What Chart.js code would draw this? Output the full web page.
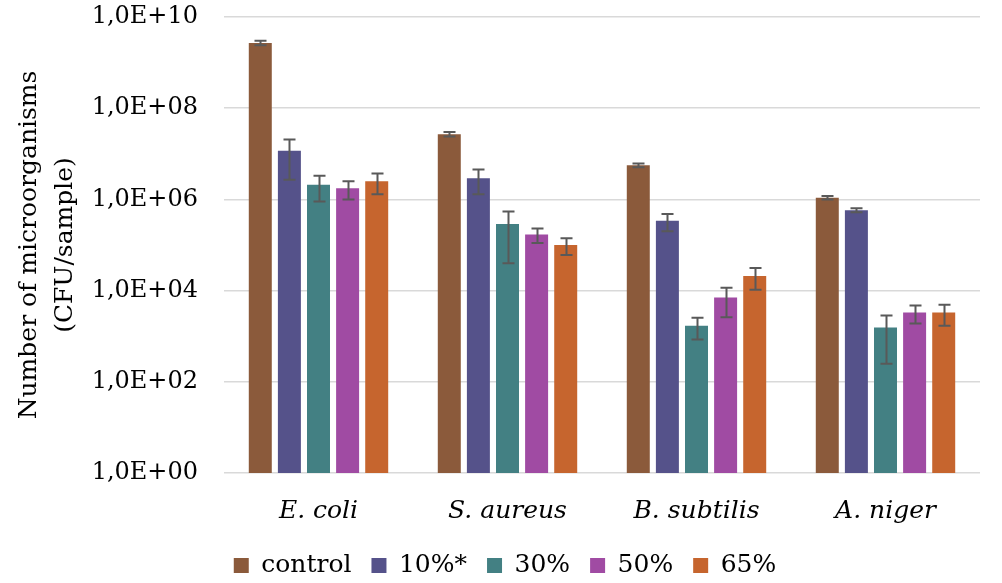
<!DOCTYPE html>
<html>
<head>
<meta charset="utf-8">
<script src="https://cdn.jsdelivr.net/npm/chart.js@4.4.1/dist/chart.umd.min.js"></script>
<style>
  html, body { margin: 0; padding: 0; background: #ffffff; }
  #wrap { width: 1002px; height: 583px; position: relative; }
</style>
</head>
<body>
<div id="wrap"><canvas id="chart" width="1002" height="583"></canvas></div>
<script>
// Microorganism counts (CFU/sample) per organism and treatment
const categories = ['E. coli', 'S. aureus', 'B. subtilis', 'A. niger'];
const seriesNames = ['control', '10%*', '30%', '50%', '65%'];

const controlMean = [2.7e9, 2.7e7, 5.6e6, 1.09e6];
const p10Mean     = [1.17e7, 2.9e6, 3.4e5, 5.8e5];
const p30Mean     = [2.1e6, 2.9e5, 1.7e3, 1.55e3];
const p50Mean     = [1.75e6, 1.7e5, 7.1e3, 3.3e3];
const p65Mean     = [2.5e6, 1.0e5, 2.1e4, 3.3e3];

// Standard deviations shown as error bars
const controlSd = [3.0e8, 3.0e6, 5.0e5, 1.0e5];
const p10Sd     = [9.0e6, 1.6e6, 1.4e5, 6.0e4];
const p30Sd     = [1.2e6, 2.5e5, 8.5e2, 1.3e3];
const p50Sd     = [7.5e5, 6.0e4, 4.5e3, 1.4e3];
const p65Sd     = [1.2e6, 4.0e4, 1.05e4, 1.6e3];

const yTickValues = [1e0, 1e2, 1e4, 1e6, 1e8, 1e10];

const colors = ['#8B5A3B', '#55528A', '#438083', '#A04BA3', '#C6652E'];
const means = [controlMean, p10Mean, p30Mean, p50Mean, p65Mean];
const sds = [controlSd, p10Sd, p30Sd, p50Sd, p65Sd];

const FONT = "'DejaVu Serif', Georgia, serif";

function formatExp(v) {
  const e = Math.round(Math.log10(v));
  return '1,0E+' + String(e).padStart(2, '0');
}

// Draws the ±SD whiskers over every bar
const errorBars = {
  id: 'errorBars',
  afterDatasetsDraw(chart) {
    const { ctx } = chart;
    const yScale = chart.scales.y;
    ctx.save();
    ctx.strokeStyle = '#595959';
    ctx.lineWidth = 2;
    chart.data.datasets.forEach((ds, di) => {
      const meta = chart.getDatasetMeta(di);
      if (meta.hidden) return;
      meta.data.forEach((bar, i) => {
        const v = ds.data[i];
        const sd = ds.sd[i];
        const hi = yScale.getPixelForValue(v + sd);
        const lo = yScale.getPixelForValue(Math.max(v - sd, 1));
        const x = Math.round(bar.x) + 0.5;
        const cap = 6;
        ctx.beginPath();
        ctx.moveTo(x, hi); ctx.lineTo(x, lo);
        ctx.moveTo(x - cap, hi); ctx.lineTo(x + cap, hi);
        ctx.moveTo(x - cap, lo); ctx.lineTo(x + cap, lo);
        ctx.stroke();
      });
    });
    ctx.restore();
  }
};

new Chart(document.getElementById('chart'), {
  type: 'bar',
  data: {
    labels: categories,
    datasets: seriesNames.map((name, k) => ({
      label: name,
      data: means[k],
      sd: sds[k],
      backgroundColor: colors[k],
      borderWidth: 0,
      categoryPercentage: 0.77,
      barPercentage: 0.79
    }))
  },
  options: {
    responsive: false,
    animation: false,
    devicePixelRatio: 1,
    layout: { padding: { top: 17, right: 22, left: 30, bottom: 0 } },
    plugins: {
      tooltip: { enabled: false },
      legend: {
        position: 'bottom',
        maxHeight: 50,
        labels: {
          font: { family: FONT, size: 25 },
          color: '#000000',
          boxWidth: 15,
          boxHeight: 15,
          padding: 20
        }
      }
    },
    scales: {
      x: {
        grid: { display: false },
        border: { display: false },
        afterFit(scale) { scale.height = 60; },
        ticks: {
          font: { family: FONT, size: 25, style: 'italic' },
          color: '#000000',
          padding: 15
        }
      },
      y: {
        type: 'logarithmic',
        min: 1,
        max: 1e10,
        afterBuildTicks(scale) {
          scale.ticks = yTickValues.map(v => ({ value: v }));
        },
        afterFit(scale) {
          scale.width = 194;
          scale.paddingTop = 0;
          scale.paddingBottom = 0;
        },
        grid: { color: '#d9d9d9', lineWidth: 1.5, drawTicks: false },
        border: { display: false },
        ticks: {
          font: { family: FONT, size: 24 },
          color: '#000000',
          padding: 26,
          callback: (v) => formatExp(v)
        },
        title: {
          display: true,
          text: ['Number of microorganisms', '(CFU/sample)'],
          font: { family: FONT, size: 25, lineHeight: 1.45 },
          color: '#000000',
          padding: { top: -19, bottom: 0 }
        }
      }
    }
  },
  plugins: [errorBars]
});
</script>
</body>
</html>
